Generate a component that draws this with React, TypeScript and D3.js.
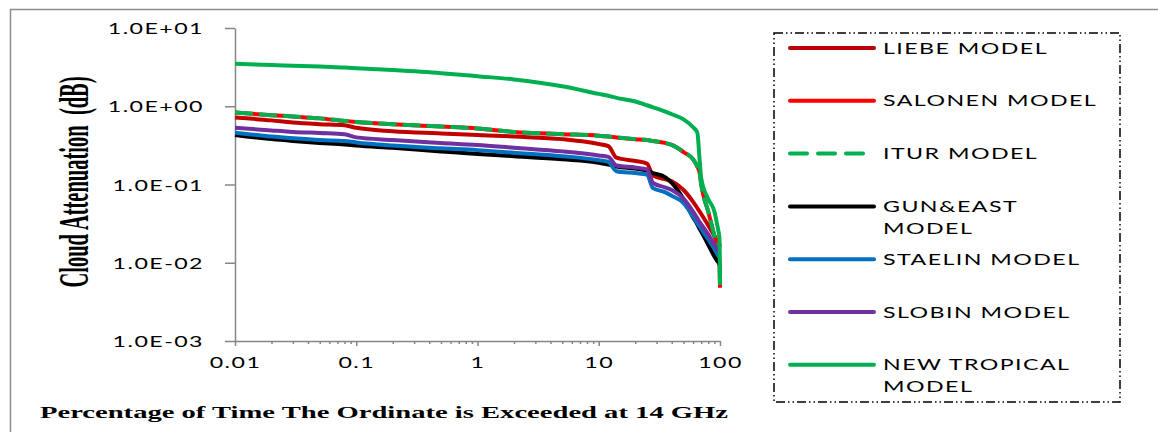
import React, { useEffect, useRef } from "react";
import * as d3 from "d3";

// percentage of time (x) shared by every model
const percent = [0.01, 0.02, 0.03, 0.05, 0.08, 0.1, 0.2, 0.5, 1, 2, 5, 10, 12, 14, 20, 25, 28, 35, 40, 50, 60, 65, 68, 70, 80, 90, 95, 99, 100];

// cloud attenuation (dB) per model
const liebe = [0.72, 0.66, 0.62, 0.59, 0.57, 0.53, 0.48, 0.45, 0.43, 0.41, 0.38, 0.33, 0.31, 0.22, 0.2, 0.185, 0.13, 0.117, 0.11, 0.085, 0.06, 0.05, 0.045, 0.042, 0.03, 0.022, 0.019, 0.017, 0.016];
const salonen = [0.83, 0.77, 0.74, 0.7, 0.65, 0.63, 0.59, 0.55, 0.52, 0.47, 0.44, 0.42, 0.41, 0.4, 0.38, 0.37, 0.36, 0.34, 0.32, 0.26, 0.21, 0.17, 0.14, 0.1, 0.045, 0.022, 0.016, 0.01, 0.0048];
const itur = [0.83, 0.77, 0.74, 0.7, 0.65, 0.63, 0.59, 0.55, 0.52, 0.47, 0.44, 0.42, 0.41, 0.4, 0.38, 0.37, 0.36, 0.34, 0.32, 0.26, 0.21, 0.17, 0.14, 0.1, 0.045, 0.022, 0.016, 0.01, 0.0048];
const gunEast = [0.43, 0.38, 0.36, 0.34, 0.325, 0.315, 0.295, 0.265, 0.245, 0.23, 0.21, 0.19, 0.18, 0.17, 0.16, 0.15, 0.14, 0.125, 0.105, 0.065, 0.038, 0.031, 0.027, 0.025, 0.017, 0.012, 0.0105, 0.0095, 0.009];
const staelin = [0.46, 0.41, 0.39, 0.37, 0.36, 0.345, 0.315, 0.29, 0.275, 0.255, 0.23, 0.205, 0.195, 0.148, 0.14, 0.134, 0.09, 0.08, 0.072, 0.058, 0.039, 0.032, 0.029, 0.027, 0.02, 0.015, 0.013, 0.012, 0.012];
const slobin = [0.53, 0.49, 0.47, 0.455, 0.44, 0.4, 0.37, 0.34, 0.32, 0.295, 0.265, 0.235, 0.225, 0.175, 0.165, 0.156, 0.105, 0.092, 0.085, 0.066, 0.045, 0.037, 0.033, 0.031, 0.023, 0.017, 0.015, 0.014, 0.014];
const newTropical = [3.5, 3.36, 3.3, 3.22, 3.12, 3.07, 2.9, 2.65, 2.42, 2.2, 1.8, 1.44, 1.36, 1.28, 1.15, 1.03, 0.97, 0.86, 0.79, 0.68, 0.54, 0.46, 0.2, 0.12, 0.065, 0.045, 0.03, 0.02, 0.006];

const legendLabels = [["LIEBE MODEL"], ["SALONEN MODEL"], ["ITUR MODEL"], ["GUN&EAST", "MODEL"], ["STAELIN MODEL"], ["SLOBIN MODEL"], ["NEW TROPICAL", "MODEL"]];

const xTicks = [0.01, 0.1, 1, 10, 100];
const xTickLabels = ["0.01", "0.1", "1", "10", "100"];
const yTicks = [0.001, 0.01, 0.1, 1, 10];
const yTickLabels = ["1.0E-03", "1.0E-02", "1.0E-01", "1.0E+00", "1.0E+01"];

const SX = 1.45; // the picture is stretched sideways
const AXIS = "#868686";
const SANS = "Lato, 'Liberation Sans', sans-serif";
const SERIF = "'Liberation Serif', 'Times New Roman', serif";

const App = () => {
  const ref = useRef<SVGSVGElement>(null);

  useEffect(() => {
    const svg = d3.select(ref.current);
    svg.selectAll("*").remove();

    const left = 235, right = 720, top = 28, bottom = 341;
    const x = d3.scaleLog().domain([0.01, 100]).range([left, right]);
    const y = d3.scaleLog().domain([0.001, 10]).range([bottom, top]);

    const series = [
      { values: liebe, color: "#C00000", dash: null },
      { values: salonen, color: "#FF0000", dash: null },
      { values: itur, color: "#00B050", dash: "18,6" },
      { values: gunEast, color: "#000000", dash: null },
      { values: staelin, color: "#0070C0", dash: null },
      { values: slobin, color: "#7030A0", dash: null },
      { values: newTropical, color: "#00B050", dash: null },
    ];

    // chart area border (only top/left visible)
    svg.append("rect")
      .attr("x", 10.5).attr("y", 9.5)
      .attr("width", 1200).attr("height", 500)
      .attr("fill", "none").attr("stroke", "#8c8c8c").attr("stroke-width", 1.5);

    // y axis
    const yAxis = svg.append("g")
      .attr("transform", `translate(${left},0)`)
      .call(d3.axisLeft(y).tickValues(yTicks).tickSize(10).tickSizeOuter(0)
        .tickFormat((d, i) => yTickLabels[i]));
    yAxis.select(".domain").attr("stroke", AXIS).attr("stroke-width", 1.5);
    yAxis.selectAll(".tick line").attr("stroke", AXIS).attr("stroke-width", 1.5);
    yAxis.selectAll(".tick text")
      .attr("x", -31 / SX).attr("dy", "0.35em")
      .attr("transform", `scale(${SX},1)`)
      .attr("font-family", SANS).attr("font-size", 16)
      .attr("letter-spacing", 1).attr("fill", "#000");

    // x axis minor ticks
    const minor: number[] = [];
    for (let e = -2; e < 2; e++) for (let m = 2; m <= 9; m++) minor.push(m * Math.pow(10, e));
    const xMinor = svg.append("g")
      .attr("transform", `translate(0,${bottom})`)
      .call(d3.axisBottom(x).tickValues(minor).tickSize(3).tickFormat(() => ""));
    xMinor.select(".domain").remove();
    xMinor.selectAll(".tick line").attr("stroke", AXIS).attr("stroke-width", 1.5);

    const xAxis = svg.append("g")
      .attr("transform", `translate(0,${bottom})`)
      .call(d3.axisBottom(x).tickValues(xTicks).tickSize(5).tickSizeOuter(0)
        .tickFormat((d, i) => xTickLabels[i]));
    xAxis.select(".domain").attr("stroke", AXIS).attr("stroke-width", 1.5);
    xAxis.selectAll(".tick line").attr("stroke", AXIS).attr("stroke-width", 1.5);
    xAxis.selectAll(".tick text")
      .attr("y", 27).attr("dy", 0)
      .attr("transform", `scale(${SX},1)`)
      .attr("font-family", SANS).attr("font-size", 16)
      .attr("letter-spacing", 1).attr("fill", "#000");

    // lines
    const line = d3.line<number>()
      .x((d, i) => x(percent[i]))
      .y(d => y(d))
      .curve(d3.curveMonotoneX);

    series.forEach(s => {
      svg.append("path")
        .attr("d", line(s.values))
        .attr("fill", "none")
        .attr("stroke", s.color)
        .attr("stroke-width", 4)
        .attr("stroke-linejoin", "round")
        .attr("stroke-dasharray", s.dash);
    });

    // axis titles
    svg.append("text")
      .attr("transform", `translate(88,182) rotate(-90) scale(1,2.05)`)
      .attr("text-anchor", "middle")
      .attr("font-family", SERIF).attr("font-weight", "bold").attr("font-size", 20.5)
      .attr("fill", "#000")
      .attr("xml:space", "preserve")
      .text("Cloud Attenuation  (dB)");

    svg.append("text")
      .attr("x", 40).attr("y", 418)
      .attr("textLength", 688).attr("lengthAdjust", "spacingAndGlyphs")
      .attr("font-family", SERIF).attr("font-weight", "bold").attr("font-size", 17)
      .attr("fill", "#000")
      .text("Percentage of Time The Ordinate is Exceeded at 14 GHz");

    // legend
    const lg = svg.append("g");
    lg.append("rect")
      .attr("x", 774).attr("y", 33).attr("width", 346).attr("height", 369)
      .attr("fill", "#fff").attr("stroke", "#000").attr("stroke-width", 1.5)
      .attr("stroke-dasharray", "9,3,1.5,3,1.5,3");

    series.forEach((s, i) => {
      const cy = 48 + i * 52.8;
      lg.append("line")
        .attr("x1", 790).attr("x2", 874).attr("y1", cy).attr("y2", cy)
        .attr("stroke", s.color).attr("stroke-width", 4)
        .attr("stroke-linecap", "round")
        .attr("stroke-dasharray", s.dash ? "17,11" : null);
      const t = lg.append("text")
        .attr("transform", `translate(883,${cy}) scale(${SX},1)`)
        .attr("font-family", SANS).attr("font-size", 16)
        .attr("letter-spacing", 1).attr("fill", "#000");
      legendLabels[i].forEach((l, k) => {
        t.append("tspan").attr("x", 0).attr("y", k * 22).attr("dy", "0.35em").text(l);
      });
    });
  }, []);

  return (
    <svg
      ref={ref}
      width={1158}
      height={432}
      style={{ position: "absolute", left: 0, top: 0, background: "#fff" }}
    />
  );
};

export default App;
